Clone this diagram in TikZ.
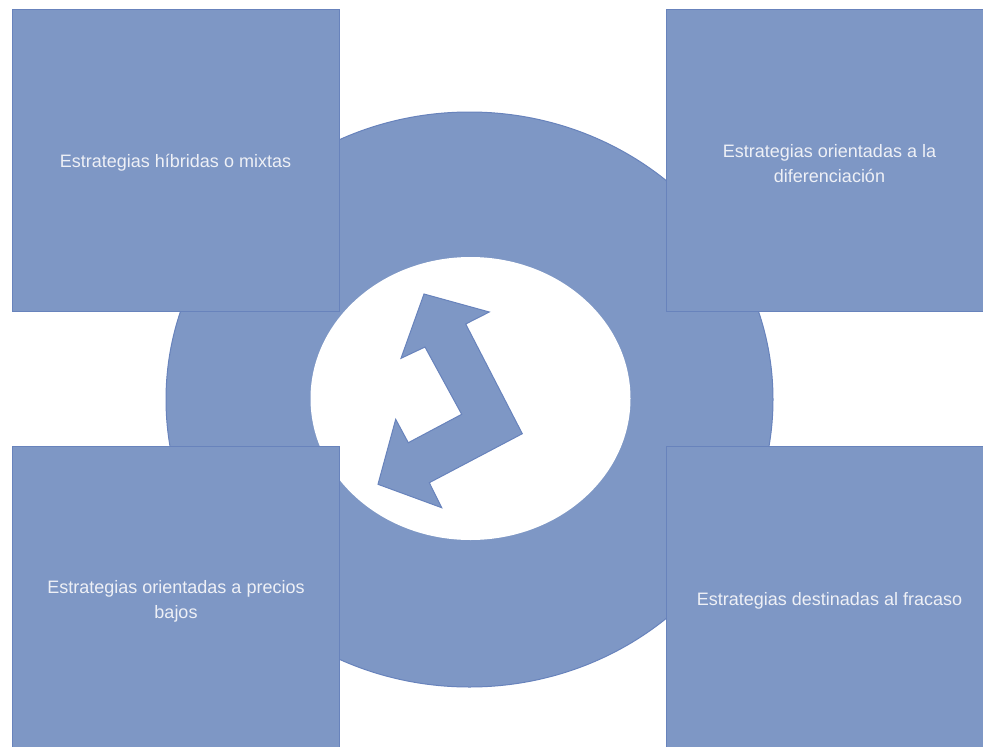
\documentclass[tikz,border=0pt]{standalone}
\usepackage{fontspec}
\setmainfont{Liberation Sans}
\usetikzlibrary{shapes.geometric}
\definecolor{fillblue}{RGB}{126,151,197}
\definecolor{lineblue}{RGB}{104,131,188}
\definecolor{txt}{RGB}{238,240,246}
\begin{document}
\begin{tikzpicture}[x=1pt,y=-1pt,
  box/.style={draw=lineblue, line width=1pt, fill=fillblue, minimum width=327pt, minimum height=302pt, inner sep=0pt},
  boxtext/.style={text=txt, align=center, inner sep=0pt, yshift=-4pt, font=\fontsize{18}{25}\selectfont},
  ring/.style={ellipse, draw=lineblue, line width=1pt, fill=fillblue, inner sep=0pt},
  hole/.style={ellipse, fill=white, inner sep=0pt},
  arrowshape/.style={draw=lineblue, line width=1pt, fill=fillblue, line join=miter}]
\useasboundingbox (0,0) rectangle (983,747);
\node[ring, minimum width=607pt, minimum height=575pt] (outer) at (469.5,399.5) {};
\node[hole, minimum width=320pt, minimum height=283pt] (inner) at (470.5,398.5) {};
\draw[arrowshape] (424,294) -- (489.3,312) -- (465.7,324) -- (522.3,433.7) -- (429.3,482.7) -- (441.7,507.7) -- (378,484.3) -- (395.7,419.3) -- (408.3,442.7) -- (461.7,414.3) -- (425,347) -- (401,358.3) -- cycle;
\node[box, label={[boxtext, yshift=1.5pt]center:Estrategias híbridas o mixtas}] (tl) at (175.5,160) {};
\node[box, label={[boxtext]center:Estrategias orientadas a la\\diferenciación}] (tr) at (829.5,160) {};
\node[box, label={[boxtext]center:Estrategias orientadas a precios\\bajos}] (bl) at (176,597) {};
\node[box, label={[boxtext]center:Estrategias destinadas al fracaso}] (br) at (829.5,597) {};
\end{tikzpicture}
\end{document}
